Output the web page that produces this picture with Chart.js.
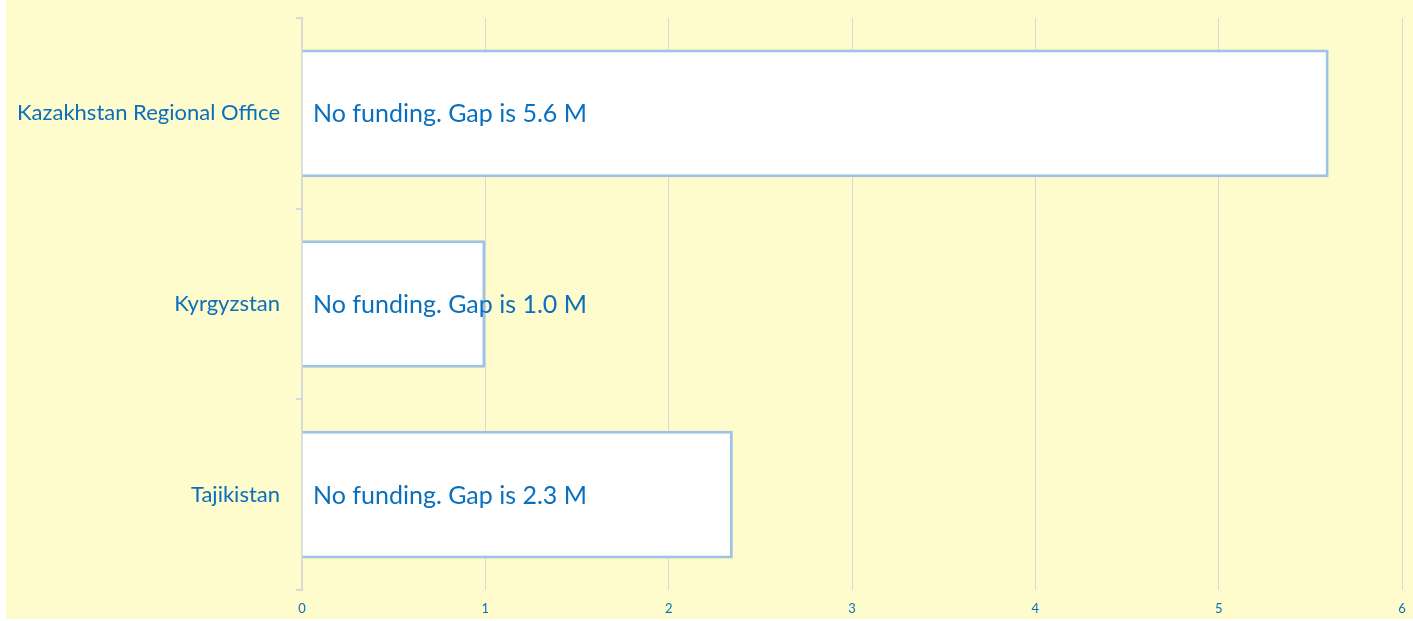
<!DOCTYPE html>
<html>
<head>
<meta charset="utf-8">
<script src="https://cdn.jsdelivr.net/npm/chart.js@4.4.0/dist/chart.umd.min.js"></script>
<style>
  html, body { margin: 0; padding: 0; background: #ffffff; }
  #wrap { position: absolute; left: 6px; top: 0; width: 1407px; height: 619px; background: #fefbcd; }
</style>
</head>
<body>
<div id="wrap"><canvas id="gapChart" width="1407" height="619"></canvas></div>
<script>
  // Chart data
  const offices = ["Kazakhstan Regional Office", "Kyrgyzstan", "Tajikistan"];
  const gapValues = [5.6, 1.0, 2.35];
  const gapLabels = ["No funding. Gap is 5.6 M", "No funding. Gap is 1.0 M", "No funding. Gap is 2.3 M"];

  const textBlue = "#0a6fbd";
  const gridGray = "#d9d9d9";

  // Write the gap text inside each bar, starting from the axis
  const gapTextPlugin = {
    id: "gapText",
    afterDatasetsDraw(chart) {
      const ctx = chart.ctx;
      const meta = chart.getDatasetMeta(0);
      const x0 = chart.scales.x.getPixelForValue(0);
      ctx.save();
      ctx.font = "25px Lato";
      ctx.fillStyle = textBlue;
      ctx.textBaseline = "middle";
      ctx.textAlign = "left";
      meta.data.forEach(function(bar, i) {
        ctx.fillText(gapLabels[i], x0 + 11, bar.y + 1);
      });
      ctx.restore();
    }
  };

  const ctx = document.getElementById("gapChart").getContext("2d");
  new Chart(ctx, {
    type: "bar",
    data: {
      labels: offices,
      datasets: [{
        data: gapValues,
        backgroundColor: "#ffffff",
        borderColor: "#9dc3e6",
        borderWidth: 3,
        barPercentage: 0.67,
        categoryPercentage: 1
      }]
    },
    options: {
      indexAxis: "y",
      responsive: false,
      animation: false,
      layout: {
        padding: { top: 18, right: 11, bottom: 0, left: 0 }
      },
      plugins: {
        legend: { display: false },
        tooltip: { enabled: false }
      },
      scales: {
        x: {
          min: 0,
          max: 6,
          ticks: {
            stepSize: 1,
            color: textBlue,
            font: { family: "Lato", size: 13 },
            padding: 11
          },
          grid: {
            color: gridGray,
            drawTicks: false
          },
          border: { display: false },
          afterFit(scale) {
            scale.height = 29;
            scale.paddingLeft = 0;
            scale.paddingRight = 0;
          }
        },
        y: {
          ticks: {
            color: textBlue,
            font: { family: "Lato", size: 22 },
            padding: 16
          },
          grid: {
            color: gridGray,
            lineWidth: 2,
            drawOnChartArea: false,
            tickLength: 6
          },
          border: { color: gridGray, width: 2 },
          afterFit(scale) {
            scale.width = 296;
            scale.paddingTop = 0;
            scale.paddingBottom = 0;
          }
        }
      }
    },
    plugins: [gapTextPlugin]
  });
</script>
</body>
</html>
